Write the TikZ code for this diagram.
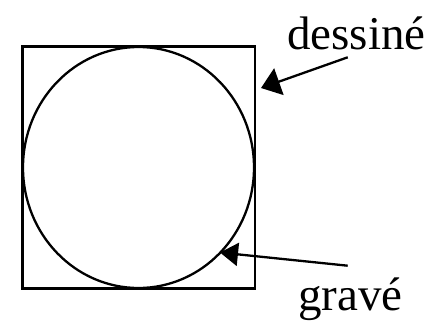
\documentclass[tikz,border=0pt]{standalone}
\usepackage{fontspec}
\setmainfont{Liberation Serif}
\usetikzlibrary{arrows.meta}
\begin{document}
\begin{tikzpicture}[x=1pt,y=-1pt,
  shape line/.style={draw=black,line width=2.3pt},
  label text/.style={inner sep=0pt,anchor=base west,font=\fontsize{47}{56}\selectfont},
  pointer/.style={draw=black,line width=2.3pt}]
\useasboundingbox (0,0) rectangle (439,325);
\draw[shape line] (22.5,46.5) coordinate (sqa) rectangle (255,288.5) coordinate (sqb);
\draw[shape line] (138.5,167.5) coordinate (c) ellipse [x radius=115.5, y radius=120.5];
\node[label text] (dessine) at (287,49.5) {dessiné};
\node[label text] (grave) at (298,310) {gravé};
\coordinate (t1) at (347.7,57.3);
\coordinate (h1) at (261,88);
\coordinate (t2) at (347.7,265.7);
\coordinate (h2) at (220,252.5);
\draw[pointer,-{Triangle[length=19pt,width=28pt]}] (t1) -- (h1);
\draw[pointer,-{Triangle[length=18pt,width=23pt]}] (t2) -- (h2);
\end{tikzpicture}
\end{document}
